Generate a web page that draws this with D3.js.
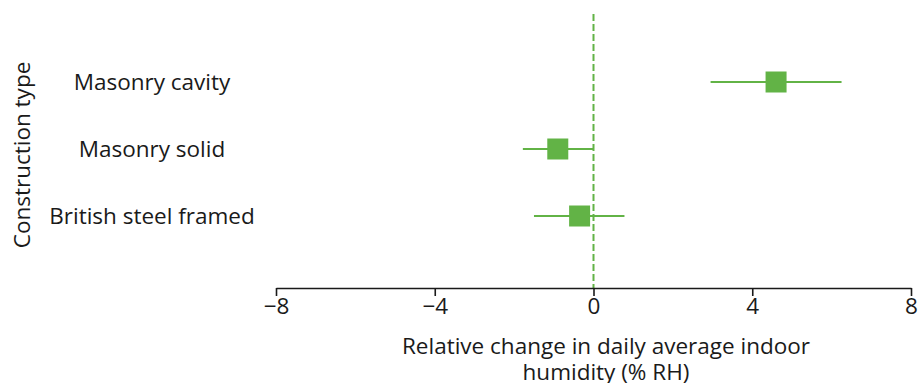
<!DOCTYPE html>
<html>
<head>
<meta charset="utf-8">
<script src="https://cdn.jsdelivr.net/npm/d3@7"></script>
<style>
  body { margin: 0; background: #fff; }
  text { font-family: "Open Sans", "Noto Sans", sans-serif; fill: #1a1a1a; }
</style>
</head>
<body>
<div id="chart"></div>
<script>
const categories = ["Masonry cavity", "Masonry solid", "British steel framed"];
const estimates = [4.6, -0.9, -0.35];
const lowerCI = [2.95, -1.78, -1.5];
const upperCI = [6.25, 0, 0.78];
const xTicks = [-8, -4, 0, 4, 8];

const width = 919, height = 383;
const margin = {top: 14, right: 8, bottom: 96, left: 276};
const green = "#62b346";
const fs = "22.5px";

const svg = d3.select("#chart").append("svg")
  .attr("width", width)
  .attr("height", height);

const x = d3.scaleLinear()
  .domain([-8, 8])
  .range([margin.left, width - margin.right]);

const axisY = height - margin.bottom + 1;

const y = d3.scalePoint()
  .domain(categories)
  .range([82, 216]);

// zero reference line
svg.append("line")
  .attr("x1", x(0)).attr("x2", x(0))
  .attr("y1", margin.top).attr("y2", axisY)
  .attr("stroke", green)
  .attr("stroke-width", 2)
  .attr("stroke-dasharray", "7,3");

// x axis
const xAxis = svg.append("g")
  .attr("transform", "translate(0," + axisY + ")")
  .call(d3.axisBottom(x).tickValues(xTicks).tickSize(8).tickSizeOuter(0).tickPadding(2));
xAxis.select(".domain").attr("stroke", "#1a1a1a").attr("stroke-width", 1.6);
xAxis.selectAll(".tick line").attr("stroke", "#1a1a1a").attr("stroke-width", 1.6);
xAxis.selectAll(".tick text")
  .style("font-family", "'Open Sans', 'Noto Sans', sans-serif")
  .style("font-size", fs)
  .attr("fill", "#1a1a1a");

// confidence intervals
svg.append("g")
  .selectAll("line")
  .data(categories)
  .enter()
  .append("line")
    .attr("x1", (d, i) => x(lowerCI[i]))
    .attr("x2", (d, i) => x(upperCI[i]))
    .attr("y1", d => y(d))
    .attr("y2", d => y(d))
    .attr("stroke", green)
    .attr("stroke-width", 2);

// point estimates
const sq = 21;
svg.append("g")
  .selectAll("rect")
  .data(categories)
  .enter()
  .append("rect")
    .attr("x", (d, i) => x(estimates[i]) - sq / 2)
    .attr("y", d => y(d) - sq / 2)
    .attr("width", sq)
    .attr("height", sq)
    .attr("fill", green);

// category labels
svg.append("g")
  .selectAll("text")
  .data(categories)
  .enter()
  .append("text")
    .attr("x", 152)
    .attr("y", d => y(d))
    .attr("dy", "0.35em")
    .attr("text-anchor", "middle")
    .style("font-size", fs)
    .text(d => d);

// y title
svg.append("text")
  .attr("transform", "translate(30,155) rotate(-90)")
  .attr("text-anchor", "middle")
  .style("font-size", fs)
  .text("Construction type");

// x title
svg.append("text")
  .attr("x", 606)
  .attr("y", 354)
  .attr("text-anchor", "middle")
  .style("font-size", fs)
  .text("Relative change in daily average indoor");
svg.append("text")
  .attr("x", 606)
  .attr("y", 380)
  .attr("text-anchor", "middle")
  .style("font-size", fs)
  .text("humidity (% RH)");
</script>
</body>
</html>
